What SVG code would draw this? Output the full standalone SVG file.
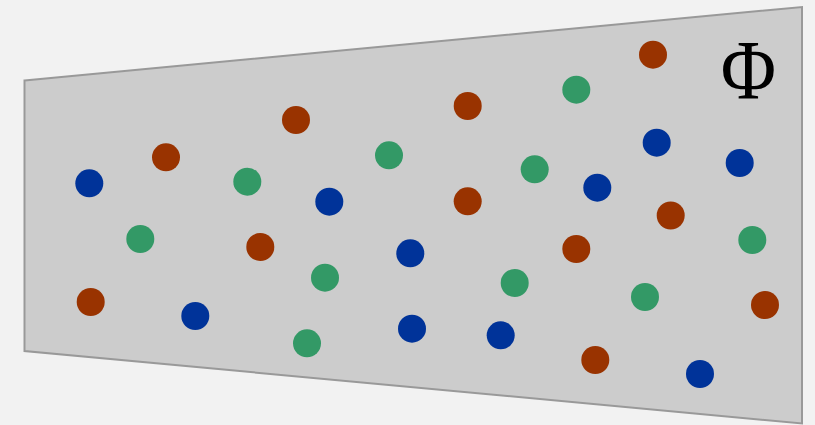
<svg xmlns="http://www.w3.org/2000/svg" width="815" height="425" viewBox="0 0 815 425">
<style>
.o{fill:#993300}.g{fill:#339966}.b{fill:#003399}
</style>
<rect width="815" height="425" fill="#f2f2f2"/>
<polygon points="24.5,80.5 802,7 802,423.5 24.5,351" fill="#cccccc" stroke="#999999" stroke-width="2"/>
<g id="dots">
<circle class="b" cx="89.3" cy="183.3" r="14"/>
<circle class="o" cx="166" cy="157.3" r="14"/>
<circle class="o" cx="296" cy="120" r="14"/>
<circle class="g" cx="247.3" cy="181.7" r="14"/>
<circle class="g" cx="389" cy="155.3" r="14"/>
<circle class="b" cx="329.3" cy="201.7" r="14"/>
<circle class="o" cx="467.7" cy="106" r="14"/>
<circle class="g" cx="576.3" cy="89.7" r="14"/>
<circle class="o" cx="653" cy="54.7" r="14"/>
<circle class="b" cx="656.7" cy="142.7" r="14"/>
<circle class="b" cx="739.7" cy="163" r="14"/>
<circle class="g" cx="534.7" cy="169.3" r="14"/>
<circle class="b" cx="597.3" cy="187.7" r="14"/>
<circle class="o" cx="467.7" cy="201.3" r="14"/>
<circle class="o" cx="670.7" cy="215.5" r="14"/>
<circle class="g" cx="140.3" cy="239" r="14"/>
<circle class="o" cx="260.3" cy="247" r="14"/>
<circle class="g" cx="325" cy="277.7" r="14"/>
<circle class="o" cx="90.7" cy="302" r="14"/>
<circle class="b" cx="195.3" cy="316" r="14"/>
<circle class="g" cx="307" cy="343.3" r="14"/>
<circle class="b" cx="410.3" cy="253.3" r="14"/>
<circle class="g" cx="752.3" cy="240" r="14"/>
<circle class="o" cx="576.3" cy="249" r="14"/>
<circle class="g" cx="514.7" cy="283" r="14"/>
<circle class="g" cx="645" cy="297" r="14"/>
<circle class="o" cx="765" cy="305" r="14"/>
<circle class="b" cx="412" cy="328.7" r="14"/>
<circle class="b" cx="500.7" cy="335.3" r="14"/>
<circle class="o" cx="595.3" cy="360" r="14"/>
<circle class="b" cx="700" cy="374" r="14"/>
</g>
<text transform="translate(748.5,98.5) scale(0.9,1)" x="0" y="0" font-family="Liberation Serif, serif" font-size="84" text-anchor="middle" fill="#000">Φ</text>
</svg>
